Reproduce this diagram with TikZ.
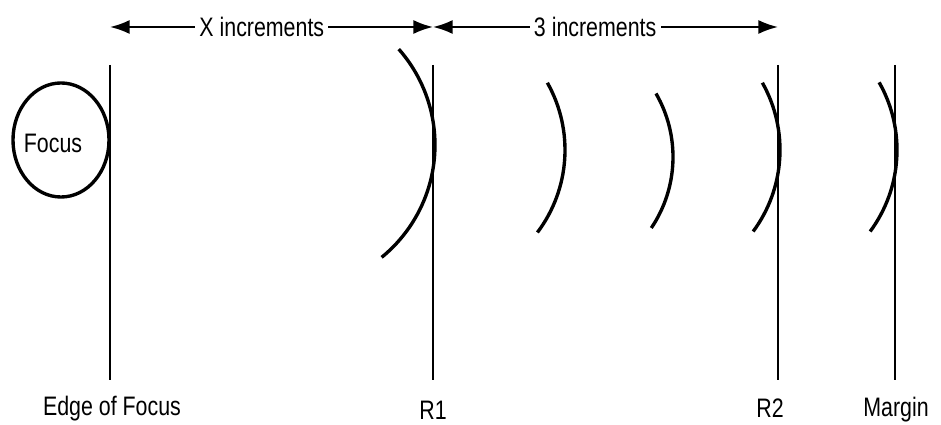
\documentclass[tikz,border=0pt]{standalone}
\usepackage{fontspec}
\setmainfont[FakeStretch=0.8]{Liberation Sans}
\usetikzlibrary{arrows.meta,positioning,shapes.geometric}

\tikzset{
  edgeline/.style={line width=1.3pt},
  wave/.style={line width=2.4pt},
  dimline/.style={line width=1.4pt, <->},
  baselabel/.style={inner sep=1pt},
}

\begin{document}
\begin{tikzpicture}[x=0.025cm, y=-0.025cm, >={Latex[length=14pt,width=10pt]}, font=\fontsize{19}{21}\selectfont]
    \useasboundingbox (0,0) rectangle (941,425);

    % Focus
    \node[draw, ellipse, line width=2.4pt, minimum width=2.4cm, minimum height=2.85cm, inner sep=0pt] (focus) at (61,140) {};
    \node (focuslabel) at (53,143) {Focus};

    % Vertical lines
    \coordinate (edgetop) at (110,65);
    \coordinate (edgebot) at (110,380);
    \coordinate (r1top) at (433,65);
    \coordinate (r1bot) at (433,380);
    \coordinate (r2top) at (778,65);
    \coordinate (r2bot) at (778,380);
    \coordinate (margtop) at (895,65);
    \coordinate (margbot) at (895,380);

    \draw[edgeline] (edgetop) -- (edgebot);
    \draw[edgeline] (r1top) -- (r1bot);
    \draw[edgeline] (r2top) -- (r2bot);
    \draw[edgeline] (margtop) -- (margbot);

    \node[baselabel] (edgelabel) at (112,409) {Edge of Focus};
    \node[baselabel] (r1label) at (433,410) {R1};
    \node[baselabel] (r2label) at (770,408) {R2};
    \node[baselabel] (marglabel) at (896,410) {Margin};

    % Wave fronts
    \draw[wave] (290,145) ++(-41.4:145) arc[start angle=-41.4, end angle=50.8, radius=145];
    \draw[wave] (428,150) ++(-29.4:137) arc[start angle=-29.4, end angle=37, radius=137];
    \draw[wave] (546,157) ++(-30:127) arc[start angle=-30, end angle=34, radius=127];
    \draw[wave] (643,150) ++(-29.4:137) arc[start angle=-29.4, end angle=36.5, radius=137];
    \draw[wave] (760,150) ++(-29.6:137) arc[start angle=-29.6, end angle=36.5, radius=137];

    % Increments
    \coordinate (xstart) at (110,27);
    \coordinate (xend) at (433,27);
    \coordinate (incend) at (778,27);

    \draw[dimline] (xstart) -- node[pos=0.47, fill=white, inner xsep=3pt] (xinc) {X increments} (xend);
    \draw[dimline] (xend) -- node[pos=0.47, fill=white, inner xsep=3pt] (threeinc) {3 increments} (incend);
\end{tikzpicture}
\end{document}
